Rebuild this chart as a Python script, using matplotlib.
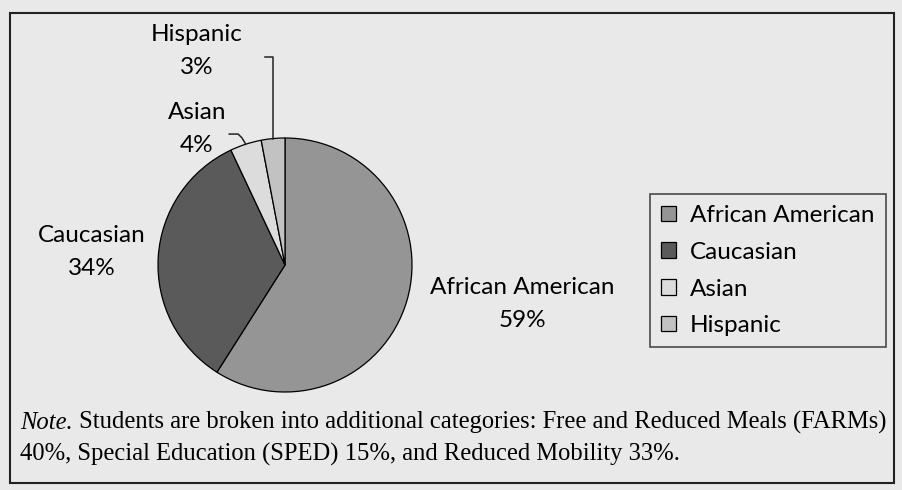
import matplotlib.pyplot as plt
from matplotlib.patches import Rectangle
import numpy as np

# data
groups = ["African American", "Caucasian", "Asian", "Hispanic"]
shares = [59, 34, 4, 3]
colors = ["#959595", "#5a5a5a", "#dcdcdc", "#c2c2c2"]
note_rest = ("Students are broken into additional categories: Free and Reduced Meals (FARMs)\n"
             "40%, Special Education (SPED) 15%, and Reduced Mobility 33%.")

bg = "#e9e9e9"
sans = ["Lato", "DejaVu Sans"]
serif = ["Liberation Serif", "DejaVu Serif"]

fig = plt.figure(figsize=(9.02, 4.90), dpi=100, facecolor=bg)

# pixel overlay for frame and note
ov = fig.add_axes([0, 0, 1, 1])
ov.set_xlim(0, 902)
ov.set_ylim(490, 0)
ov.axis("off")
ov.add_patch(Rectangle((10, 13), 884, 470, fill=False, ec="#222222", lw=1.5))

# pie
ax = fig.add_axes([158 / 902, (490 - 392) / 490, 254 / 902, 254 / 490])
ax.set_facecolor(bg)
wedges, _ = ax.pie(shares, colors=colors, startangle=90, counterclock=False,
                   wedgeprops=dict(edgecolor="black", linewidth=0.9))
ax.set_xlim(-1, 1)
ax.set_ylim(-1, 1)
ax.set_aspect("equal")

# labels
fs = 17.5
ls = 1.7
def mid(w):
    return np.deg2rad((w.theta1 + w.theta2) / 2)

ov.text(522, 304, "African American\n59%", ha="center", va="center", fontsize=fs,
        family=sans, linespacing=ls)
ov.text(92, 252, "Caucasian\n34%", ha="center", va="center", fontsize=fs,
        family=sans, linespacing=ls)
ov.text(197, 129, "Asian\n4%", ha="center", va="center", fontsize=fs,
        family=sans, linespacing=ls)
ov.text(197, 51, "Hispanic\n3%", ha="center", va="center", fontsize=fs,
        family=sans, linespacing=ls)

# leader lines computed from wedge mid angles
a = mid(wedges[3])
x0, y0 = np.cos(a), np.sin(a)
ax.plot([x0, x0, x0 - 0.065], [y0, 1.64, 1.64], color="#222222", lw=1.1, clip_on=False)
a = mid(wedges[2])
x0, y0 = np.cos(a), np.sin(a)
ax.plot([x0, x0 - 0.03, x0 - 0.06, x0 - 0.13], [y0, y0 + 0.05, y0 + 0.08, y0 + 0.08],
        color="#222222", lw=1.1, clip_on=False)

# legend
leg = fig.legend(wedges, groups, loc="upper left",
                 bbox_to_anchor=(650 / 902, 1 - 194 / 490),
                 frameon=True, fancybox=False, edgecolor="#222222", facecolor=bg,
                 prop=dict(family=sans, size=fs), handlelength=0.6, handleheight=0.6,
                 handletextpad=0.6, labelspacing=0.65, borderpad=0.45, borderaxespad=0)
leg.get_frame().set_linewidth(1.2)

# note
nfs = 17.7
t = ov.text(20, 429, "Note.", fontsize=nfs, family=serif, style="italic", va="baseline")
ov.annotate(" " + note_rest.split("\n")[0], xy=(1, 0), xycoords=t, fontsize=nfs,
            family=serif, va="bottom", ha="left")
ov.text(20, 461, note_rest.split("\n")[1], fontsize=nfs, family=serif, va="baseline")

fig.savefig("out.png", dpi=100, facecolor=bg)
